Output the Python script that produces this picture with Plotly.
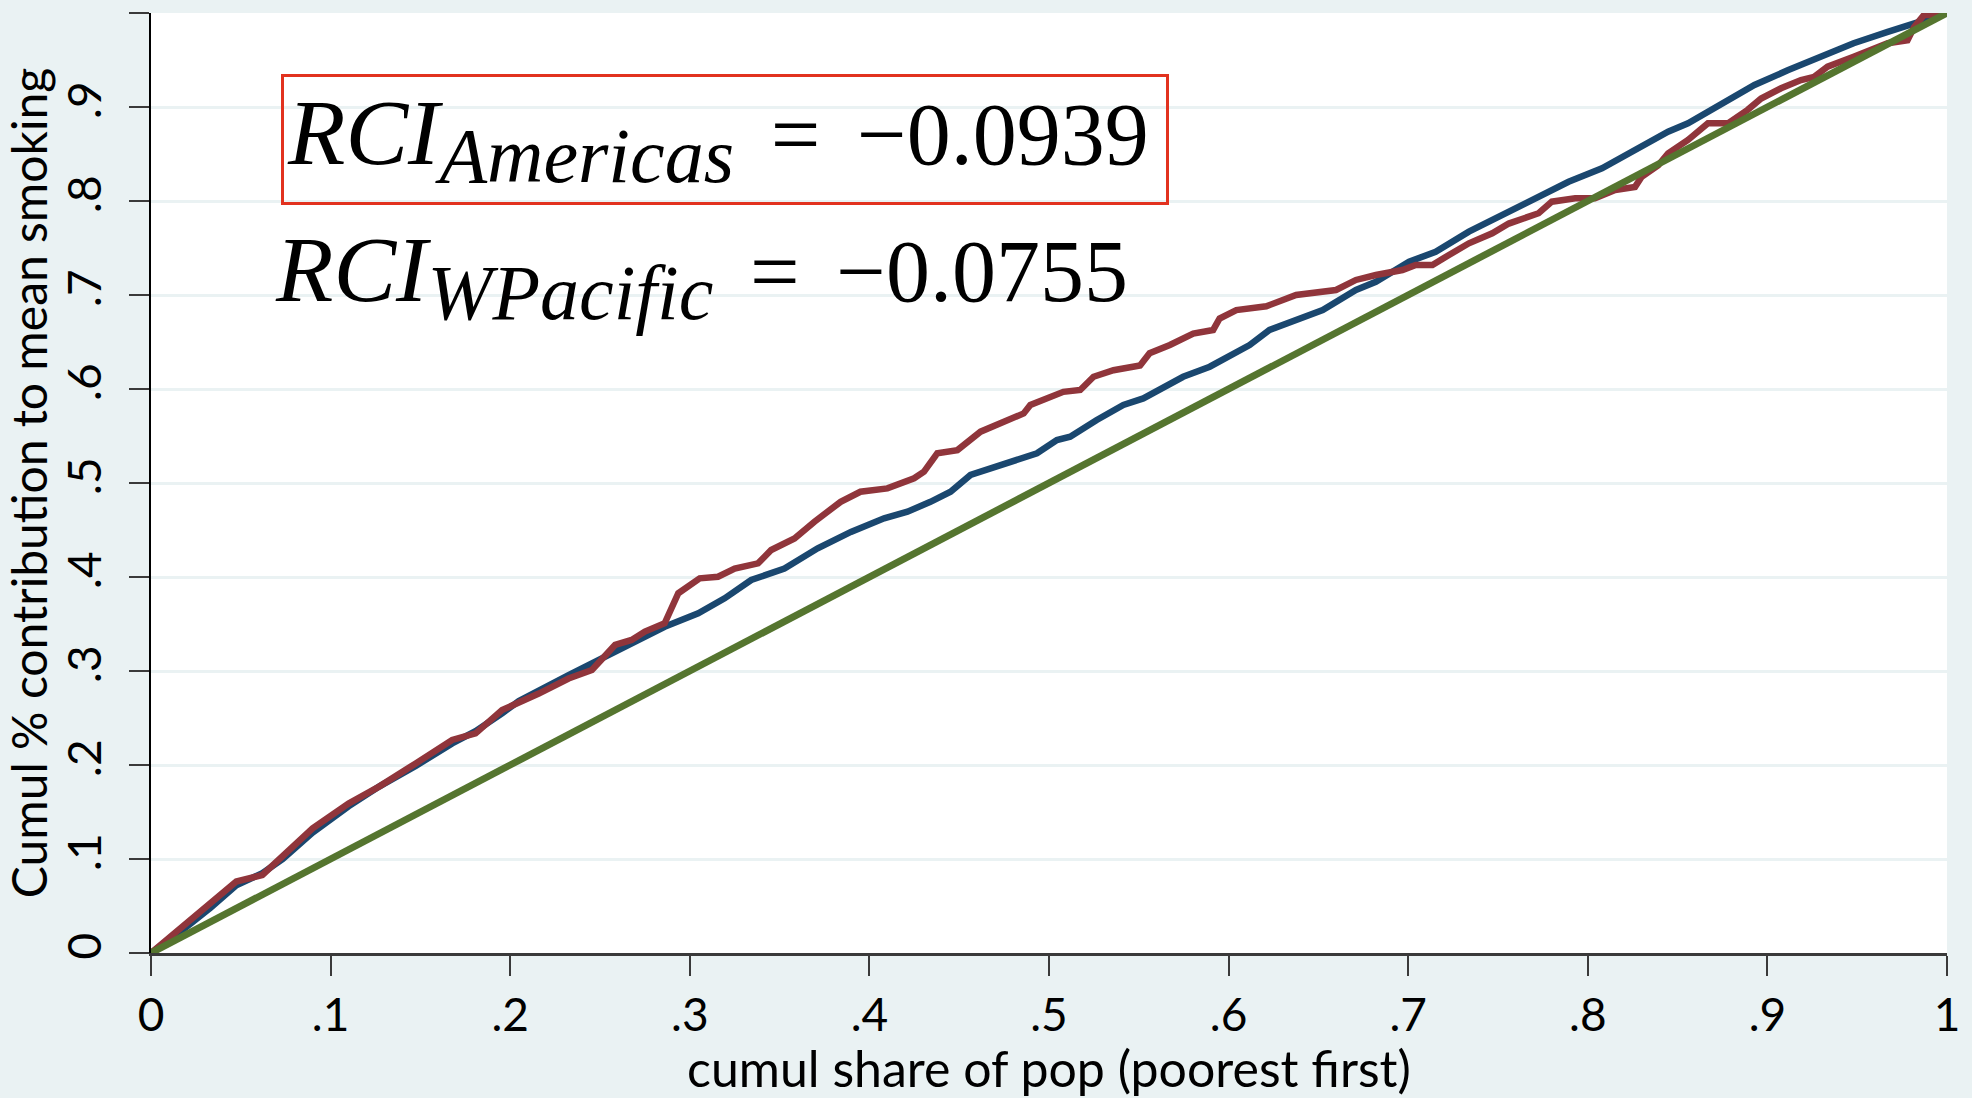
import plotly.graph_objects as go

# Concentration curves: cumulative share of smoking vs cumulative population share
ticks = [0, 0.1, 0.2, 0.3, 0.4, 0.5, 0.6, 0.7, 0.8, 0.9, 1.0]
tick_text = ["0", ".1", ".2", ".3", ".4", ".5", ".6", ".7", ".8", ".9", "1"]

# Western Pacific curve (navy)
wpac_x = [0, 0.018, 0.033, 0.0475, 0.062, 0.0734, 0.090, 0.110, 0.127, 0.1474,
          0.1677, 0.1807, 0.1955, 0.2048, 0.2325, 0.2603, 0.286, 0.3047, 0.3194,
          0.3342, 0.3527, 0.3712, 0.3897, 0.4082, 0.4212, 0.434, 0.4452, 0.4563,
          0.4711, 0.4822, 0.4933, 0.5044, 0.5118, 0.5266, 0.5414, 0.5525, 0.5636,
          0.5747, 0.5895, 0.6006, 0.6117, 0.6228, 0.6376, 0.6487, 0.6524, 0.6709,
          0.682, 0.7005, 0.7153, 0.7338, 0.7524, 0.7708, 0.7893, 0.8079, 0.8263,
          0.8447, 0.8558, 0.8743, 0.8928, 0.9113, 0.9298, 0.948, 0.967, 0.9817, 1.0]
wpac_y = [0, 0.025, 0.048, 0.072, 0.085, 0.100, 0.128, 0.156, 0.177, 0.199,
          0.223, 0.236, 0.255, 0.268, 0.2957, 0.3223, 0.347, 0.3614, 0.3773,
          0.3968, 0.409, 0.4305, 0.448, 0.4624, 0.4695, 0.480, 0.4907, 0.5085,
          0.5173, 0.5245, 0.5316, 0.5457, 0.5493, 0.567, 0.583, 0.590, 0.6024,
          0.613, 0.6237, 0.636, 0.6468, 0.6628, 0.6734, 0.682, 0.684, 0.7053,
          0.714, 0.7354, 0.746, 0.7674, 0.785, 0.8028, 0.8205, 0.8347, 0.854,
          0.8737, 0.8826, 0.904, 0.9234, 0.939, 0.9535, 0.9678, 0.980, 0.989, 1.0]

# Americas curve (maroon)
amer_x = [0, 0.018, 0.0327, 0.0475, 0.062, 0.0734, 0.090, 0.110, 0.127, 0.1474,
          0.1677, 0.1807, 0.1955, 0.2159, 0.2325, 0.2455, 0.2584, 0.2676, 0.275,
          0.286, 0.2936, 0.3055, 0.3157, 0.325, 0.338, 0.3453, 0.3583, 0.3694,
          0.384, 0.395, 0.410, 0.4249, 0.4304, 0.4378, 0.449, 0.4619, 0.4711,
          0.4859, 0.4896, 0.508, 0.5174, 0.5248, 0.5359, 0.5507, 0.556, 0.5673,
          0.5803, 0.5914, 0.595, 0.6043, 0.621, 0.6376, 0.6598, 0.6709, 0.682,
          0.6968, 0.7042, 0.7135, 0.7227, 0.7338, 0.7468, 0.756, 0.7726, 0.78,
          0.793, 0.804, 0.8152, 0.8263, 0.83, 0.8392, 0.8447, 0.8558, 0.8669,
          0.878, 0.889, 0.8965, 0.9076, 0.9187, 0.926, 0.9335, 0.948, 0.9577,
          0.967, 0.978, 0.9817, 0.9872, 0.9928, 1.0]
amer_y = [0, 0.028, 0.053, 0.076, 0.083, 0.1025, 0.1326, 0.159, 0.177, 0.2017,
          0.2266, 0.2337, 0.2585, 0.276, 0.292, 0.301, 0.3277, 0.333, 0.342,
          0.3507, 0.3827, 0.3986, 0.4003, 0.409, 0.4145, 0.4287, 0.441, 0.4588,
          0.480, 0.4907, 0.4943, 0.505, 0.512, 0.5316, 0.535, 0.5546, 0.5617,
          0.574, 0.583, 0.597, 0.599, 0.613, 0.620, 0.625, 0.638, 0.6468,
          0.659, 0.6628, 0.675, 0.684, 0.688, 0.700, 0.7053, 0.716, 0.7213,
          0.7266, 0.732, 0.732, 0.7426, 0.755, 0.7656, 0.776, 0.787, 0.7993,
          0.8028, 0.8028, 0.8117, 0.815, 0.8258, 0.838, 0.8507, 0.865, 0.8826,
          0.8826, 0.897, 0.909, 0.9199, 0.9287, 0.932, 0.9429, 0.9535, 0.9606,
          0.9678, 0.971, 0.985, 0.998, 0.998, 1.0]

# Line of equality
eq_x = [0, 1]
eq_y = [0, 1]

rci_labels = [
    ("Americas", "−0.0939"),
    ("WPacific", "−0.0755"),
]

NAVY = "#1a476f"
MAROON = "#90353b"
GREEN = "#55752f"
BG = "#eaf2f3"
SANS = "Lato"
SERIF = "Liberation Serif"

fig = go.Figure()
fig.add_trace(go.Scatter(x=wpac_x, y=wpac_y, mode="lines",
                         line=dict(color=NAVY, width=6.5), showlegend=False))
fig.add_trace(go.Scatter(x=amer_x, y=amer_y, mode="lines",
                         line=dict(color=MAROON, width=6.5), showlegend=False))
fig.add_trace(go.Scatter(x=eq_x, y=eq_y, mode="lines",
                         line=dict(color=GREEN, width=7), showlegend=False))

def rci_text(region, value, tail=""):
    # math-style label: italic symbol with an italic subscript
    return (f"<span style=\"font-size:94px\"><i>RCI</i></span>"
            f"<sub><span style=\"font-size:78px\"><i>{region}</i></span></sub>"
            f"\u2004\u200a=\u2004\u200a{value}{tail}")

fig.add_annotation(x=0.0725, y=0.8655, xref="x", yref="y",
                   text=rci_text(*rci_labels[0], tail="\u2006"), showarrow=False,
                   xanchor="left", yanchor="middle",
                   font=dict(family=SERIF, size=88, color="black"),
                   bordercolor="#e2321f", borderwidth=3, borderpad=3,
                   bgcolor="rgba(255,255,255,0)")
fig.add_annotation(x=0.068, y=0.72, xref="x", yref="y",
                   text=rci_text(*rci_labels[1]), showarrow=False,
                   xanchor="left", yanchor="middle",
                   font=dict(family=SERIF, size=88, color="black"))

fig.update_layout(
    width=1972, height=1098,
    margin=dict(l=151, r=19, t=13, b=145),
    paper_bgcolor=BG, plot_bgcolor="white",
    font=dict(family=SANS, color="black"),
)
fig.update_xaxes(
    range=[0, 1], tickvals=ticks, ticktext=tick_text,
    showgrid=False, zeroline=False,
    showline=True, linecolor="#3a3a3a", linewidth=3,
    ticks="outside", ticklen=20, tickwidth=2, tickcolor="#3a3a3a",
    tickfont=dict(family=SANS, size=46, color="black"),
    title=dict(text="cumul share of pop (poorest first)",
               font=dict(family=SANS, size=50, color="black"), standoff=6),
)
fig.update_yaxes(
    range=[0, 1], tickvals=ticks, ticktext=tick_text,
    showgrid=True, gridcolor=BG, gridwidth=3, zeroline=False,
    showline=True, linecolor="black", linewidth=2,
    ticks="outside", ticklen=20, tickwidth=2, tickcolor="#3a3a3a",
    tickangle=-90, ticklabelstandoff=10,
    tickfont=dict(family=SANS, size=46, color="black"),
    title=dict(text="Cumul % contribution to mean smoking",
               font=dict(family=SANS, size=48, color="black"), standoff=4),
)

fig.write_html("out.html")
